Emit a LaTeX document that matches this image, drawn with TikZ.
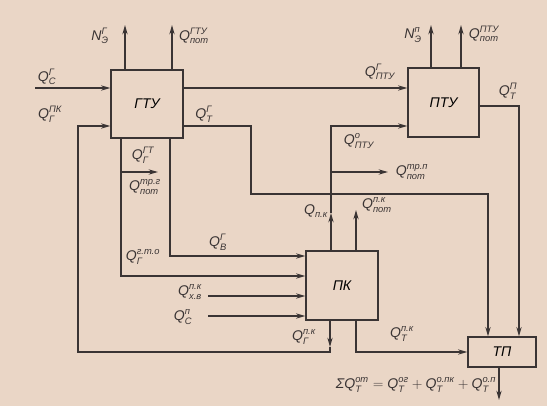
\documentclass[tikz,border=0pt]{standalone}
\usepackage{fontspec}
\usepackage{amsmath}
\setmainfont{Liberation Sans}
\usetikzlibrary{arrows.meta}

\definecolor{paper}{RGB}{234,214,198}
\definecolor{ink}{RGB}{58,52,52}

\newcommand{\Qv}[3]{$\text{#1}^{\text{#3}}_{\text{#2}}$}

\tikzset{
  blk/.style={draw=ink, line width=1.1pt, inner sep=0pt, font=\itshape\large},
  flow/.style={draw=ink, line width=1.1pt},
  arr/.style={flow, -{Stealth[length=8pt,width=4.5pt]}},
  lbl/.style={text=ink, font=\itshape\large, inner sep=0pt},
}

\begin{document}
\begin{tikzpicture}[x=0.03cm,y=-0.03cm]
    \fill[paper] (0,0) rectangle (547,406);
    \useasboundingbox (0,0) rectangle (547,406);

    \node[blk, minimum width=2.16cm, minimum height=2.04cm] (gtu) at (147,104) {ГТУ};
    \node[blk, minimum width=2.13cm, minimum height=2.07cm] (ptu) at (443.5,102.5) {ПТУ};
    \node[blk, minimum width=2.16cm, minimum height=2.07cm] (pk) at (342,285.5) {ПК};
    \node[blk, minimum width=2.04cm, minimum height=0.9cm] (tp) at (502,352) {ТП};

    \coordinate (cIn) at (35,88);
    \draw[arr] (cIn) -- (cIn -| gtu.west);
    \coordinate (nG) at (125,25);
    \draw[arr] (nG |- gtu.north) -- (nG);
    \coordinate (pG) at (172,25);
    \draw[arr] (pG |- gtu.north) -- (pG);
    \draw[arr] (cIn -| gtu.east) -- (cIn -| ptu.west);
    \coordinate (nP) at (431,25);
    \draw[arr] (nP |- ptu.north) -- (nP);
    \coordinate (pP) at (461,25);
    \draw[arr] (pP |- ptu.north) -- (pP);

    \coordinate (tG1) at (251,126);
    \coordinate (tG2) at (488,194);
    \draw[arr] (tG1 -| gtu.east) -- (tG1) |- (tG2) -- (tG2 |- tp.north);
    \coordinate (tP) at (519,106);
    \draw[arr] (tP -| ptu.east) -- (tP) -- (tP |- tp.north);

    \coordinate (pkA) at (331,213);
    \coordinate (o1) at (331,126);
    \draw[arr] (pkA |- pk.north) -- (pkA);
    \draw[arr] (pkA) -- (o1) -- (o1 -| ptu.west);
    \coordinate (trP) at (388,172);
    \draw[arr] (trP -| o1) -- (trP);
    \coordinate (pkB) at (356,210);
    \draw[arr] (pkB |- pk.north) -- (pkB);

    \coordinate (gk) at (330,347);
    \coordinate (rb) at (78,352);
    \coordinate (gIn) at (78,126);
    \draw[arr] (gk |- pk.south) -- (gk);
    \draw[arr] (gk) -- (gk |- rb) -- (rb) -- (gIn) -- (gIn -| gtu.west);
    \coordinate (tk) at (356,352);
    \draw[arr] (tk |- pk.south) -- (tk) -- (tk -| tp.west);

    \coordinate (go) at (121,276);
    \draw[arr] (go |- gtu.south) -- (go) -- (go -| pk.west);
    \coordinate (trG) at (158,172);
    \draw[arr] (trG -| go) -- (trG);
    \coordinate (gv) at (170,256);
    \draw[arr] (gv |- gtu.south) -- (gv) -- (gv -| pk.west);
    \coordinate (xv) at (208,296);
    \draw[arr] (xv) -- (xv -| pk.west);
    \coordinate (cp) at (208,316);
    \draw[arr] (cp) -- (cp -| pk.west);
    \coordinate (sm) at (499,400);
    \draw[arr] (sm |- tp.south) -- (sm);

    \node[lbl] (lNg) at (100,36) {\Qv{N}{Э}{Г}};
    \node[lbl] (lPg) at (194,36) {\Qv{Q}{пот}{ГТУ}};
    \node[lbl] (lCg) at (47,77) {\Qv{Q}{С}{Г}};
    \node[lbl] (lGpk) at (50,114) {\Qv{Q}{Г}{ПК}};
    \node[lbl] (lTg) at (204,114) {\Qv{Q}{Т}{Г}};
    \node[lbl] (lGgt) at (143,155) {\Qv{Q}{Г}{ГТ}};
    \node[lbl] (lTrg) at (145,187) {\Qv{Q}{пот}{тр.г}};
    \node[lbl] (lVg) at (218,242) {\Qv{Q}{В}{Г}};
    \node[lbl] (lGto) at (143,257) {\Qv{Q}{Г}{г.т.о}};
    \node[lbl] (lXv) at (190,292) {\Qv{Q}{х.в}{п.к}};
    \node[lbl] (lCp) at (183,317) {\Qv{Q}{С}{п}};
    \node[lbl] (lPk) at (316,211) {\Qv{Q}{п.к}{}};
    \node[lbl] (lPpk) at (377,205) {\Qv{Q}{пот}{п.к}};
    \node[lbl] (lGk) at (304,337) {\Qv{Q}{Г}{п.к}};
    \node[lbl] (lTk) at (402,334) {\Qv{Q}{Т}{п.к}};
    \node[lbl] (lPtg) at (380,72) {\Qv{Q}{ПТУ}{Г}};
    \node[lbl] (lNp) at (413,35) {\Qv{N}{Э}{п}};
    \node[lbl] (lPp) at (484,34) {\Qv{Q}{пот}{ПТУ}};
    \node[lbl] (lTp) at (508,91) {\Qv{Q}{Т}{П}};
    \node[lbl] (lPt0) at (359,141) {\Qv{Q}{ПТУ}{о}};
    \node[lbl] (lTrp) at (412,172) {\Qv{Q}{пот}{тр.п}};
    \node[lbl] (lSum) at (416,385) {$\text{ΣQ}^{\text{от}}_{\text{Т}}=\text{Q}^{\text{ог}}_{\text{Т}}+\text{Q}^{\text{о.пк}}_{\text{Т}}+\text{Q}^{\text{о.п}}_{\text{Т}}$};
\end{tikzpicture}
\end{document}
